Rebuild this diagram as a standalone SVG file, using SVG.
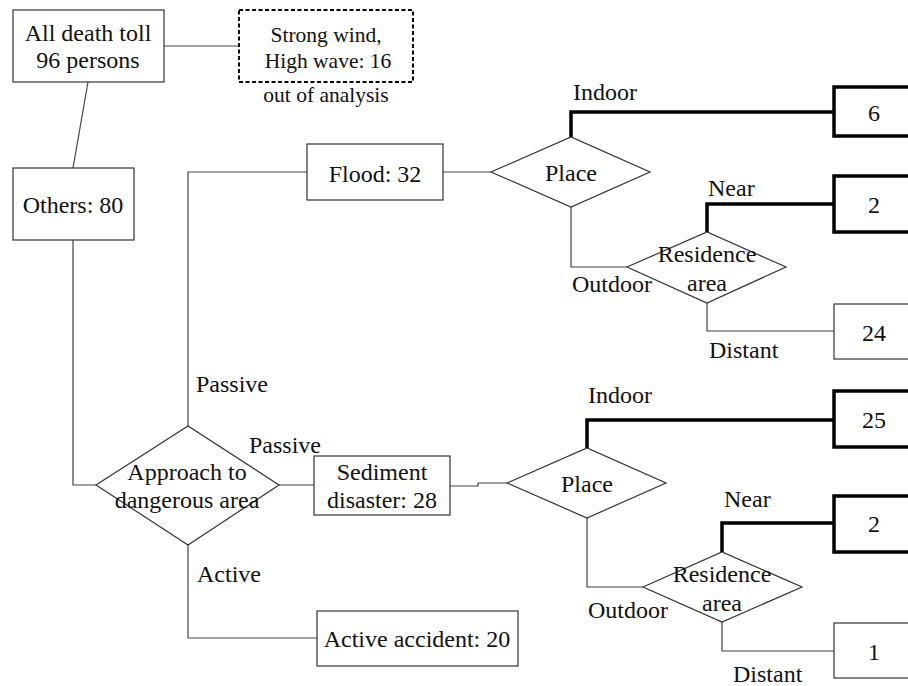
<svg xmlns="http://www.w3.org/2000/svg" width="908" height="686" viewBox="0 0 908 686" font-family="Liberation Serif, DejaVu Serif, serif">
<style>
text{font-family:'Liberation Serif','DejaVu Serif',serif;font-size:24px;fill:#111}
.c{text-anchor:middle}
.sm{font-size:21.5px}
.box{fill:#fff;stroke:#333;stroke-width:1.2}
.thickbox{fill:#fff;stroke:#000;stroke-width:3.5}
.dash{fill:#fff;stroke:#000;stroke-width:2;stroke-dasharray:4 2.5}
.dia{fill:#fff;stroke:#333;stroke-width:1.2}
.ln{fill:none;stroke:#444;stroke-width:1.2}
.tk{fill:none;stroke:#000;stroke-width:3.5}
</style>
<rect width="908" height="686" fill="#fff"/>
<g id="connectors">
<line class="ln" x1="164" y1="46" x2="239" y2="46"/>
<line class="ln" x1="88" y1="82" x2="73" y2="168"/>
<polyline class="ln" points="73,240 73,485 96,485"/>
<polyline class="ln" points="188,426 188,172 307,172"/>
<line class="ln" x1="279" y1="485" x2="314" y2="485"/>
<polyline class="ln" points="188,545 188,638 317,638"/>
<line class="ln" x1="443" y1="172" x2="491" y2="172"/>
<polyline class="tk" points="571,137 571,112 834,112"/>
<polyline class="ln" points="571,207 571,267 627,267"/>
<polyline class="tk" points="707,232 707,204 834,204"/>
<polyline class="ln" points="707,303 707,331 834,331"/>
<polyline class="ln" points="450,486 478,486 478,483 507,483"/>
<polyline class="tk" points="587,448 587,420 834,420"/>
<polyline class="ln" points="587,518 587,587 643,587"/>
<polyline class="tk" points="722,552 722,523 834,523"/>
<polyline class="ln" points="722,622 722,651 834,651"/>
</g>
<g id="labels">
<text x="196" y="392">Passive</text>
<text x="249" y="453">Passive</text>
<text x="197" y="582">Active</text>
<text x="573" y="100">Indoor</text>
<text x="708" y="196">Near</text>
<text x="572" y="292">Outdoor</text>
<text x="709" y="358">Distant</text>
<text x="588" y="403">Indoor</text>
<text x="724" y="507">Near</text>
<text x="588" y="618">Outdoor</text>
<text x="733" y="682">Distant</text>
<text class="c sm" x="326" y="102">out of analysis</text>
</g>
<g id="all">
<rect class="box" x="13" y="10" width="151" height="72"/>
<text class="c" x="88" y="41">All death toll</text>
<text class="c" x="88" y="68">96 persons</text>
</g>
<g id="wind">
<rect class="dash" x="239" y="10" width="174" height="72"/>
<text class="c sm" x="326" y="42">Strong wind,</text>
<text class="c sm" x="328" y="68">High wave: 16</text>
</g>
<g id="others">
<rect class="box" x="13" y="168" width="121" height="72"/>
<text class="c" x="73" y="213">Others: 80</text>
</g>
<g id="approach">
<polygon class="dia" points="96,485 188,426 279,485 188,545"/>
<text class="c" x="187" y="480">Approach to</text>
<text class="c" x="187" y="508">dangerous area</text>
</g>
<g id="flood">
<rect class="box" x="307" y="144" width="136" height="56"/>
<text class="c" x="375" y="182">Flood: 32</text>
</g>
<g id="sediment">
<rect class="box" x="314" y="456" width="136" height="59"/>
<text class="c" x="382" y="480">Sediment</text>
<text class="c" x="382" y="508">disaster: 28</text>
</g>
<g id="active">
<rect class="box" x="317" y="611" width="201" height="55"/>
<text class="c" x="417" y="647">Active accident: 20</text>
</g>
<g id="place1">
<polygon class="dia" points="491,172 571,137 650,172 571,207"/>
<text class="c" x="571" y="181">Place</text>
</g>
<g id="res1">
<polygon class="dia" points="627,267 707,232 786,267 707,303"/>
<text class="c" x="707" y="262">Residence</text>
<text class="c" x="707" y="291">area</text>
</g>
<g id="n6">
<rect class="thickbox" x="834" y="87" width="90" height="49"/>
<text class="c" x="874" y="121">6</text>
</g>
<g id="n2a">
<rect class="thickbox" x="834" y="176" width="90" height="56"/>
<text class="c" x="874" y="213">2</text>
</g>
<g id="n24">
<rect class="box" x="834" y="304" width="90" height="55"/>
<text class="c" x="874" y="341">24</text>
</g>
<g id="place2">
<polygon class="dia" points="507,483 587,448 666,483 587,518"/>
<text class="c" x="587" y="492">Place</text>
</g>
<g id="res2">
<polygon class="dia" points="643,587 722,552 802,587 722,622"/>
<text class="c" x="722" y="582">Residence</text>
<text class="c" x="722" y="611">area</text>
</g>
<g id="n25">
<rect class="thickbox" x="834" y="391" width="90" height="56"/>
<text class="c" x="874" y="428">25</text>
</g>
<g id="n2b">
<rect class="thickbox" x="834" y="496" width="90" height="56"/>
<text class="c" x="874" y="532">2</text>
</g>
<g id="n1">
<rect class="box" x="834" y="623" width="90" height="55"/>
<text class="c" x="874" y="660">1</text>
</g>
</svg>
